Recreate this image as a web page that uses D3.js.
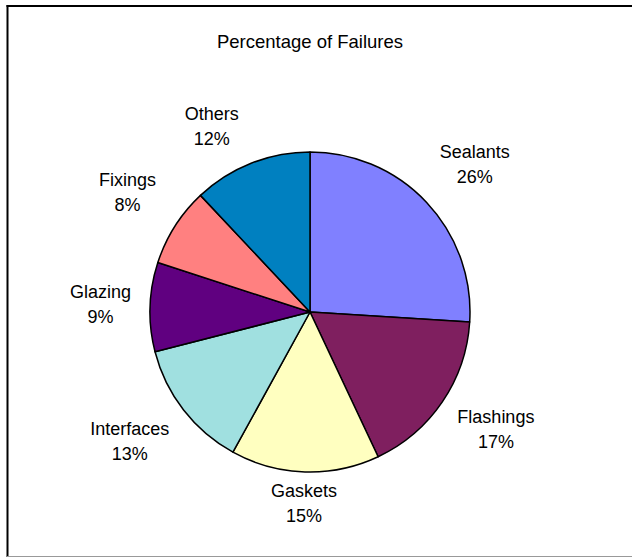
<!DOCTYPE html>
<html><head><meta charset="utf-8">
<script src="https://cdn.jsdelivr.net/npm/d3@7"></script>
<style>body{margin:0;background:#fff}svg{display:block}</style>
</head><body>
<script>
const categories = ["Sealants","Flashings","Gaskets","Interfaces","Glazing","Fixings","Others"];
const values = [26,17,15,13,9,8,12];
const colors = ["#8080FF","#7F1F5F","#FFFFC0","#A0E0E0","#600080","#FF8080","#0080C0"];
const title = "Percentage of Failures";

const W=632,H=558;
const FONT="Liberation Sans, Arial, sans-serif";
const svg=d3.select("body").append("svg").attr("width",W).attr("height",H);
svg.append("rect").attr("width",W).attr("height",H).attr("fill","#fff");
// frame
svg.append("line").attr("x1",7.5).attr("x2",7.5).attr("y1",5).attr("y2",557).attr("stroke","#000").attr("stroke-width",2);
svg.append("line").attr("x1",6.5).attr("x2",W).attr("y1",6).attr("y2",6).attr("stroke","#000").attr("stroke-width",2);
svg.append("line").attr("x1",7).attr("x2",W).attr("y1",556.5).attr("y2",556.5).attr("stroke","#999").attr("stroke-width",1);

svg.append("text").attr("x",310).attr("y",48).attr("text-anchor","middle")
  .attr("font-family",FONT).attr("font-size",18.5).text(title);

const cx=310,cy=312,r=160;
const data=categories.map((c,i)=>({c,v:values[i],col:colors[i]}));
const pie=d3.pie().value(d=>d.v).sort(null);
const arc=d3.arc().innerRadius(0).outerRadius(r);
const g=svg.append("g").attr("transform",`translate(${cx},${cy})`);
const arcs=pie(data);
g.selectAll("path").data(arcs).join("path").attr("d",arc)
  .attr("fill",d=>d.data.col).attr("stroke","#000").attr("stroke-width",1.5).attr("stroke-linejoin","round");

// label placement: radial distance factor and small angular nudge (deg)
const lr=[1.39,1.37,1.19,1.38,1.31,1.37,1.32];
const nudge=[1,-2.2,0,2.5,0.7,1.2,-6.1];
const lab=svg.append("g").attr("font-family",FONT).attr("font-size",18).attr("fill","#000");
arcs.forEach((a,i)=>{
  const ang=(a.startAngle+a.endAngle)/2 + nudge[i]*Math.PI/180;
  const rr=r*lr[i];
  const x=cx+Math.sin(ang)*rr, y=cy-Math.cos(ang)*rr;
  const t=lab.append("text").attr("text-anchor","middle");
  t.append("tspan").attr("x",x).attr("y",y-5).text(a.data.c);
  t.append("tspan").attr("x",x).attr("y",y+20).text(a.data.v+"%");
});
</script>
</body></html>
